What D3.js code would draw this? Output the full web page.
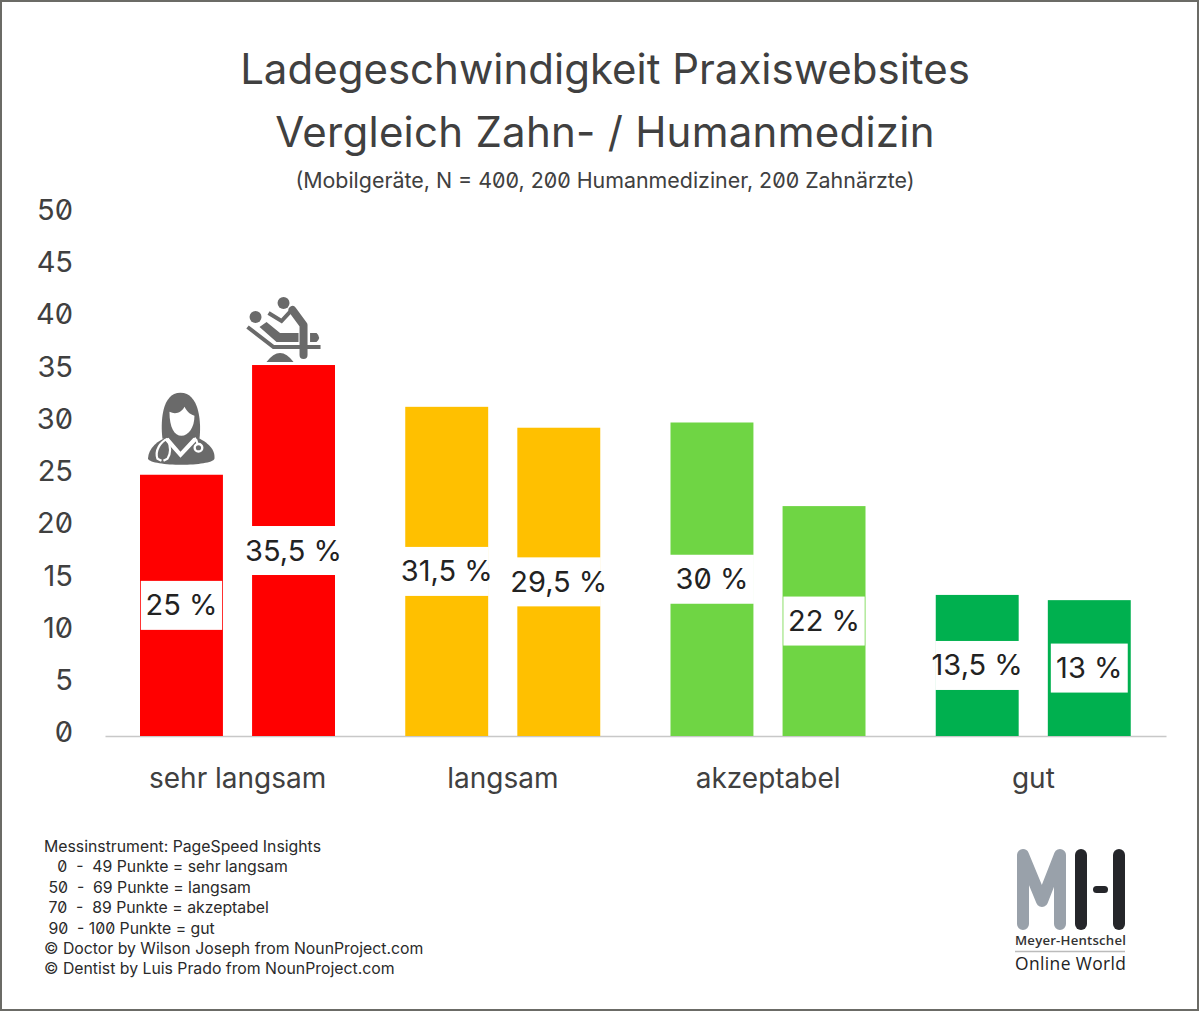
<!DOCTYPE html>
<html>
<head>
<meta charset="utf-8">
<script src="https://cdn.jsdelivr.net/npm/d3@7"></script>
<style>
  html, body { margin: 0; padding: 0; background: #fff; }
  svg { display: block; }
  text { font-family: Inter, "Noto Sans", sans-serif; font-feature-settings: "zero" 1; }
</style>
</head>
<body>
<svg id="chart" width="1200" height="1012"></svg>
<script>
// chart data
var categories = ["sehr langsam", "langsam", "akzeptabel", "gut"]
var groups = ["Humanmedizin", "Zahnmedizin"]
var humanValues = [25, 31.5, 30, 13.5]
var dentalValues = [35.5, 29.5, 22, 13]
var barColors = ["#ff0000", "#ffc000", "#6fd544", "#00b04f"]
var yTicks = [0, 5, 10, 15, 20, 25, 30, 35, 40, 45, 50]
var titleLines = ["Ladegeschwindigkeit Praxiswebsites", "Vergleich Zahn- / Humanmedizin"]
var subtitle = "(Mobilgeräte, N = 400, 200 Humanmediziner, 200 Zahnärzte)"
var notes = [
  "Messinstrument: PageSpeed Insights",
  "   0  -  49 Punkte = sehr langsam",
  " 50  -  69 Punkte = langsam",
  " 70  -  89 Punkte = akzeptabel",
  " 90  - 100 Punkte = gut",
  "© Doctor by Wilson Joseph from NounProject.com",
  "© Dentist by Luis Prado from NounProject.com"
]

var svg = d3.select("#chart")
var grey = "#404040"

svg.append("rect").attr("x", 1).attr("y", 1).attr("width", 1197).attr("height", 1009)
  .attr("fill", "#fff").attr("stroke", "#6b6b66").attr("stroke-width", 2)

var x = d3.scaleBand().domain(categories).range([105, 1166])
var xInner = d3.scaleBand().domain(groups).range([35, 230]).paddingInner(0.26)
var y = d3.scaleLinear().domain([0, 50]).range([736, 213.5])

// titles
svg.selectAll("text.title").data(titleLines).enter().append("text")
  .attr("class", "title")
  .attr("x", 605)
  .attr("y", function (d, i) { return 84 + i * 63 })
  .attr("text-anchor", "middle")
  .attr("font-size", 42)
  .attr("letter-spacing", function (d, i) { return i == 1 ? 0.25 : 0 })
  .attr("fill", grey)
  .text(function (d) { return d })

svg.append("text")
  .attr("x", 605).attr("y", 188)
  .attr("text-anchor", "middle")
  .attr("font-size", 21.4)
  .attr("fill", grey)
  .text(subtitle)

// y axis, labels sit a little above their real position in the original
var yAxis = svg.append("g")
  .attr("transform", "translate(73,-3.5)")
  .call(d3.axisLeft(y).tickValues(yTicks).tickSize(0).tickPadding(0))
yAxis.select(".domain").remove()
yAxis.selectAll("text").attr("font-size", 29).attr("fill", grey)
  .style("font-family", "Inter").style("font-feature-settings", '"zero" 1')

// x axis
var xAxis = svg.append("g")
  .attr("transform", "translate(0,736)")
  .call(d3.axisBottom(x).tickSize(0).tickPadding(32))
xAxis.select(".domain").attr("stroke", "#c8c8c8").attr("stroke-width", 1.5)
xAxis.selectAll("text").attr("font-size", 28).attr("fill", grey)
  .style("font-family", "Inter")

// bars
var rows = []
categories.forEach(function (c, i) {
  rows.push({ cat: c, group: groups[0], value: humanValues[i], color: barColors[i] })
  rows.push({ cat: c, group: groups[1], value: dentalValues[i], color: barColors[i] })
})
function barX(d) { return x(d.cat) + xInner(d.group) }
function barMid(d) { return barX(d) + xInner.bandwidth() / 2 }
function labelY(d) { return y(d.value / 2) }
// most boxes cut right through the bar, these ones leave an edge of colour
function boxInset(d) {
  if (d.value === 13) return 3
  if (d.value === 25 || d.value === 22) return 0.8
  return -0.5
}

svg.selectAll("rect.bar").data(rows).enter().append("rect")
  .attr("class", "bar")
  .attr("x", barX)
  .attr("y", function (d) { return y(d.value) })
  .attr("width", xInner.bandwidth())
  .attr("height", function (d) { return y(0) - y(d.value) })
  .attr("fill", function (d) { return d.color })

// white label boxes in the middle of each bar
svg.selectAll("rect.box").data(rows).enter().append("rect")
  .attr("class", "box")
  .attr("x", function (d) { return barX(d) + boxInset(d) })
  .attr("y", function (d) { return labelY(d) - 24.5 })
  .attr("width", function (d) { return xInner.bandwidth() - 2 * boxInset(d) })
  .attr("height", 49)
  .attr("fill", "#fff")

svg.selectAll("text.val").data(rows).enter().append("text")
  .attr("class", "val")
  .attr("x", barMid)
  .attr("y", function (d) { return labelY(d) + 10 })
  .attr("text-anchor", "middle")
  .attr("font-size", 29)
  .attr("fill", "#222")
  .text(function (d) { return String(d.value).replace(".", ",") + " %" })

// doctor icon, sits on the first bar
var doctor = svg.append("g")
  .attr("transform", "translate(" + barMid(rows[0]) + "," + y(rows[0].value) + ")")
  .attr("fill", "#6a6a6a")
doctor.append("path").attr("d", "M-19,-36 C-21,-52 -20,-82 -1,-82 C18,-82 20,-52 18,-36 Z")
doctor.append("path").attr("d", "M-33.5,-16 C-33,-27 -24,-34 -12,-39 L12,-39 C24,-34 34,-27 33,-16 C30,-8 -30,-8 -33.5,-16 Z")
doctor.append("path").attr("fill", "#fff").attr("d", "M-12,-63 C-6,-60 0,-62 3,-68 C6,-62 10,-60 13,-59 C13,-47 7,-39 0,-39 C-7,-39 -12,-47 -12,-63 Z")
doctor.append("path").attr("fill", "#fff").attr("d", "M-13,-37 L-1,-23 L12,-37 L16,-35 L-1,-17 L-17,-35 Z")
doctor.append("path").attr("fill", "none").attr("stroke", "#fff").attr("stroke-width", 2.2)
  .attr("d", "M-14,-36 C-21,-33 -27,-24 -24,-16 L-20,-14 M-14,-36 C-11,-29 -10,-22 -14,-16 L-18,-14")
doctor.append("path").attr("fill", "none").attr("stroke", "#fff").attr("stroke-width", 2.2)
  .attr("d", "M13,-37 C15,-35 16,-33 16,-31")
doctor.append("circle").attr("cx", 17).attr("cy", -27).attr("r", 3.8).attr("fill", "none").attr("stroke", "#fff").attr("stroke-width", 2.4)

// dentist icon, sits on the second bar
var dentist = svg.append("g")
  .attr("transform", "translate(" + barMid(rows[1]) + "," + y(rows[1].value) + ")")
  .attr("fill", "#6a6a6a")
dentist.append("circle").attr("cx", -10).attr("cy", -62).attr("r", 6)
dentist.append("circle").attr("cx", -38).attr("cy", -48).attr("r", 6)
dentist.append("path").attr("fill", "none").attr("stroke", "#6a6a6a").attr("stroke-width", 4)
  .attr("d", "M-25,-52 L-12,-44 L-1,-56")
dentist.append("path").attr("fill", "none").attr("stroke", "#6a6a6a").attr("stroke-width", 8)
  .attr("stroke-linecap", "round").attr("stroke-linejoin", "round")
  .attr("d", "M-1,-55 L10,-40 L10,-10")
dentist.append("path").attr("d", "M-34,-38 L-27,-43 L-13.5,-32 L5,-32 L5,-23 L-17,-23 Z")
dentist.append("path").attr("d", "M16.5,-32 L23,-32 Q28,-27.5 23,-23 L16.5,-23 Z")
dentist.append("path").attr("fill", "none").attr("stroke", "#6a6a6a").attr("stroke-width", 4)
  .attr("d", "M-46,-38 L-20,-18 L27,-18")
dentist.append("path").attr("d", "M-27,-3 Q-13.5,-21 0,-3 Z")

// footnotes
svg.selectAll("text.note").data(notes).enter().append("text")
  .attr("class", "note")
  .attr("x", 44)
  .attr("y", function (d, i) { return 852 + i * 20.4 })
  .attr("font-size", 15.8)
  .attr("fill", "#2a2a2a")
  .attr("xml:space", "preserve")
  .style("white-space", "pre")
  .text(function (d) { return d })

// logo
var logo = svg.append("g").attr("transform", "translate(1015,849)")
logo.append("path")
  .attr("d", "M8,75 L8,6 L27,52 L45,6 L45,75")
  .attr("fill", "none").attr("stroke", "#99a1aa").attr("stroke-width", 12)
  .attr("stroke-linecap", "round").attr("stroke-linejoin", "round")
logo.selectAll("rect.stem").data([0, 38]).enter().append("rect")
  .attr("class", "stem")
  .attr("x", function (d) { return 60 + d }).attr("y", 0)
  .attr("width", 12).attr("height", 81).attr("rx", 6)
  .attr("fill", "#25262a")
logo.append("rect").attr("x", 78).attr("y", 37).attr("width", 15).attr("height", 7).attr("rx", 3.5).attr("fill", "#25262a")
logo.append("text").attr("x", 0).attr("y", 96).attr("font-size", 13.2).attr("font-weight", 600).attr("fill", "#333").attr("letter-spacing", 0.2)
  .style("font-family", "'Open Sans'").text("Meyer-Hentschel")
logo.append("line").attr("x1", 0).attr("x2", 110).attr("y1", 102.5).attr("y2", 102.5).attr("stroke", "#bbb").attr("stroke-width", 1.5)
logo.append("text").attr("x", 0).attr("y", 121).attr("font-size", 17.4).attr("font-weight", 500).attr("fill", "#222").attr("letter-spacing", 0.4)
  .style("font-family", "'Open Sans'").text("Online World")
</script>
</body>
</html>
